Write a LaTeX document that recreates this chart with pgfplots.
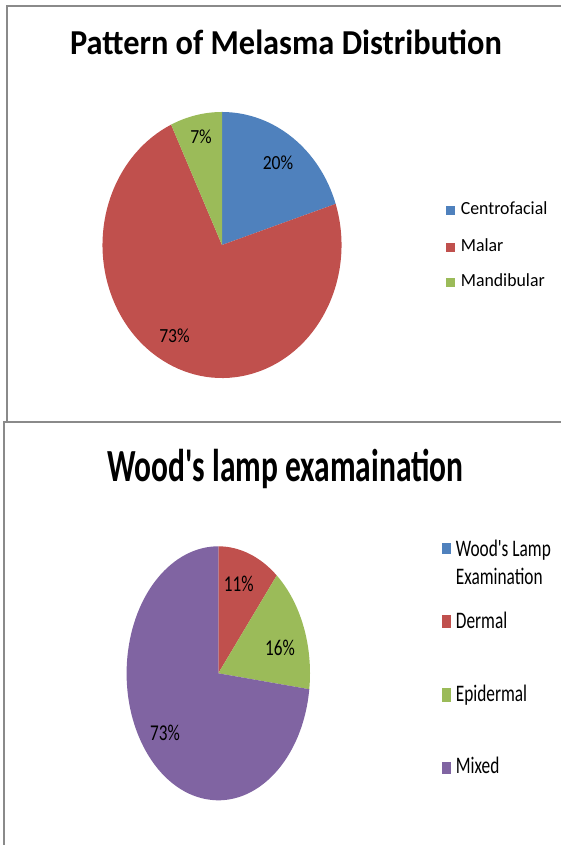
\documentclass[border=0pt]{standalone}
\usepackage{fontspec}
\usepackage{pgfplots}
\pgfplotsset{compat=1.18}
\setmainfont{Carlito}
\newfontfamily\fTitleA[FakeStretch=0.925]{Carlito}
\newfontfamily\fLabA[FakeStretch=0.88]{Carlito}
\newfontfamily\fLegA[FakeStretch=0.96]{Carlito}
\newfontfamily\fTitleB[FakeStretch=0.685]{Carlito}
\newfontfamily\fLabB[FakeStretch=0.76]{Carlito}
\newfontfamily\fLegB[FakeStretch=0.73]{Carlito}
\definecolor{cBlue}{HTML}{4F81BD}
\definecolor{cRed}{HTML}{C0504D}
\definecolor{cGreen}{HTML}{9BBB59}
\definecolor{cPurple}{HTML}{8064A2}
\definecolor{frame}{HTML}{8A8A8A}
% data (percent)
\def\vCentro{20}\def\vMalar{73}\def\vMandib{7}
\def\vWood{0}\def\vDermal{11}\def\vEpi{16}\def\vMixed{73}
\begin{document}
\begin{tikzpicture}[x=1pt,y=1pt]
\useasboundingbox (0,0) rectangle (561,845);
% frames
\draw[frame,line width=1.3pt] (561,839) -- (7,839) -- (7,423);
\draw[frame,line width=1.3pt] (561,423) -- (4,423) -- (4,0);
% ---------- top pie ----------
\begin{axis}[at={(222pt,600pt)},anchor=center,width=239pt,height=266pt,
  scale only axis,xmin=-119.5,xmax=119.5,ymin=-133,ymax=133,hide axis,clip=false]
\pgfmathsetmacro\aA{90}
\pgfmathsetmacro\aB{90-3.6*\vCentro}
\pgfmathsetmacro\aC{\aB-3.6*\vMalar}
\pgfmathsetmacro\aD{\aC-3.6*\vMandib}
\edef\doit{%
\noexpand\fill[cBlue] (axis cs:0,0) -- (axis cs:{119.5*cos(\aA)},{133*sin(\aA)}) arc[start angle=\aA,end angle=\aB,x radius=119.5pt,y radius=133pt] -- cycle;
\noexpand\fill[cRed] (axis cs:0,0) -- (axis cs:{119.5*cos(\aB)},{133*sin(\aB)}) arc[start angle=\aB,end angle=\aC,x radius=119.5pt,y radius=133pt] -- cycle;
\noexpand\fill[cGreen] (axis cs:0,0) -- (axis cs:{119.5*cos(\aC)},{133*sin(\aC)}) arc[start angle=\aC,end angle=\aD,x radius=119.5pt,y radius=133pt] -- cycle;
}\doit
\end{axis}
% ---------- bottom pie ----------
\begin{axis}[at={(218.3pt,171.7pt)},anchor=center,width=183.4pt,height=254pt,
  scale only axis,xmin=-91.7,xmax=91.7,ymin=-127,ymax=127,hide axis,clip=false]
\pgfmathsetmacro\bA{90-3.6*\vWood}
\pgfmathsetmacro\bB{\bA-3.6*\vDermal}
\pgfmathsetmacro\bC{\bB-3.6*\vEpi}
\pgfmathsetmacro\bD{\bC-3.6*\vMixed}
\edef\doit{%
\noexpand\fill[cRed] (axis cs:0,0) -- (axis cs:{91.7*cos(\bA)},{127*sin(\bA)}) arc[start angle=\bA,end angle=\bB,x radius=91.7pt,y radius=127pt] -- cycle;
\noexpand\fill[cGreen] (axis cs:0,0) -- (axis cs:{91.7*cos(\bB)},{127*sin(\bB)}) arc[start angle=\bB,end angle=\bC,x radius=91.7pt,y radius=127pt] -- cycle;
\noexpand\fill[cPurple] (axis cs:0,0) -- (axis cs:{91.7*cos(\bC)},{127*sin(\bC)}) arc[start angle=\bC,end angle=\bD,x radius=91.7pt,y radius=127pt] -- cycle;
}\doit
\end{axis}
% ---------- titles ----------
\node[anchor=base,inner sep=0pt] at (286,790) {\fTitleA\bfseries\fontsize{35}{40}\selectfont Pattern of Melasma Distribution};
\node[anchor=base,inner sep=0pt] at (285.5,363) {\fTitleB\bfseries\fontsize{46}{52}\selectfont Wood's lamp examaination};
% ---------- data labels ----------
\begin{scope}[every node/.style={anchor=base,inner sep=0pt}]
\node at (278,675.7) {\fLabA\fontsize{20}{24}\selectfont 20\%};
\node at (201,701.7) {\fLabA\fontsize{20}{24}\selectfont 7\%};
\node at (174.5,502.3) {\fLabA\fontsize{20}{24}\selectfont 73\%};
\node at (238.7,253.3) {\fLabB\fontsize{22.6}{26}\selectfont 11\%};
\node at (280,189) {\fLabB\fontsize{22.6}{26}\selectfont 16\%};
\node at (165,104.3) {\fLabB\fontsize{22.6}{26}\selectfont 73\%};
\end{scope}
% ---------- legends ----------
\begin{scope}[every node/.style={anchor=base west,inner sep=0pt}]
\fill[cBlue] (446,630) rectangle (455,639);
\node at (460.7,630) {\fLegA\fontsize{18.5}{22}\selectfont Centrofacial};
\fill[cRed] (446,593.3) rectangle (455,602.3);
\node at (460.7,593.3) {\fLegA\fontsize{18.5}{22}\selectfont Malar};
\fill[cGreen] (446,558.3) rectangle (455,567.3);
\node at (460.7,558.3) {\fLegA\fontsize{18.5}{22}\selectfont Mandibular};
\fill[cBlue] (441.7,290.7) rectangle (450.7,302.3);
\node at (455.7,288.3) {\fLegB\fontsize{23.7}{28}\selectfont Wood's Lamp};
\node at (455.7,260) {\fLegB\fontsize{23.7}{28}\selectfont Examination};
\fill[cRed] (441.7,217) rectangle (450.7,230);
\node at (455.7,216) {\fLegB\fontsize{23.7}{28}\selectfont Dermal};
\fill[cGreen] (441.7,143) rectangle (450.7,157);
\node at (455.7,143.3) {\fLegB\fontsize{23.7}{28}\selectfont Epidermal};
\fill[cPurple] (441.7,71) rectangle (450.7,83.3);
\node at (455.7,71) {\fLegB\fontsize{23.7}{28}\selectfont Mixed};
\end{scope}
\end{tikzpicture}
\end{document}
